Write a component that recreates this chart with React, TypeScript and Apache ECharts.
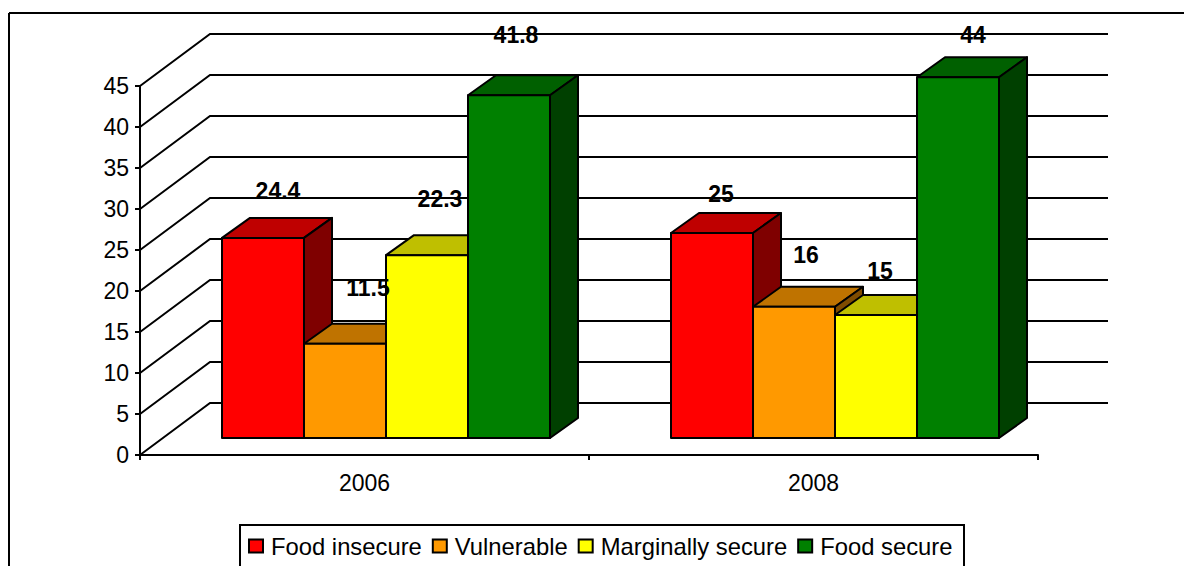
import React, { useEffect, useRef } from "react";
import * as echarts from "echarts";

const categories = ["2006", "2008"];
const seriesNames = ["Food insecure", "Vulnerable", "Marginally secure", "Food secure"];
const foodInsecure = [24.4, 25];
const vulnerable = [11.5, 16];
const marginallySecure = [22.3, 15];
const foodSecure = [41.8, 44];
const yTicks = [0, 5, 10, 15, 20, 25, 30, 35, 40, 45];

const frontColors = ["#FF0000", "#FF9900", "#FFFF00", "#008000"];
const topColors = ["#BF0000", "#BF7300", "#BFBF00", "#006000"];
const sideColors = ["#7F0000", "#7F4C00", "#7F7F00", "#004000"];

// hand-placed data label offsets from each bar's top centre [dx, dy], by series then category
const labelOffsets = [
  [[15, -47], [9, -39]],
  [[23, -56], [12, -52]],
  [[13, -56], [4, -44]],
  [[7, -60], [15, -42]],
];

const FONT = "'Liberation Sans', Arial, sans-serif";
const WALL_DX = 70;
const WALL_DY = 52;
const FLOOR_DX = 21.5;
const FLOOR_DY = 17;
const BAR_W = 82;
const SIDE_DX = 28;
const SIDE_DY = 20;
const GRID = { left: 140, right: 146, top: 86, bottom: 111 };

export default function App() {
  const ref = useRef<HTMLDivElement>(null);
  useEffect(() => {
    const chart = echarts.init(ref.current!, null, { renderer: "svg" });
    const allValues = [foodInsecure, vulnerable, marginallySecure, foodSecure];
    const stroke = { stroke: "#000", lineWidth: 2, lineJoin: "round" };

    const wall = {
      type: "custom",
      name: "wall",
      silent: true,
      data: yTicks.map((v) => [0, v]),
      encode: { x: 0, y: 1 },
      renderItem: (params: any, api: any) => {
        const cs = params.coordSys;
        const y = api.coord([0, api.value(1)])[1];
        return {
          type: "polyline",
          shape: {
            points: [
              [cs.x, y],
              [cs.x + WALL_DX, y - WALL_DY],
              [cs.x + cs.width + WALL_DX, y - WALL_DY],
            ],
          },
          style: { fill: "none", stroke: "#000", lineWidth: 2 },
        };
      },
    };

    const bars = allValues.map((values, s) => ({
      type: "custom",
      name: seriesNames[s],
      silent: true,
      itemStyle: { color: frontColors[s], borderColor: "#000", borderWidth: 2 },
      data: values.map((v, c) => [c, v]),
      encode: { x: 0, y: 1 },
      renderItem: (_p: any, api: any) => {
        const cat = api.value(0);
        const top = api.coord([cat, api.value(1)]);
        const base = api.coord([cat, 0]);
        const x0 = base[0] + FLOOR_DX + (s - 2) * BAR_W;
        const x1 = x0 + BAR_W;
        const yB = base[1] - FLOOR_DY;
        const yT = top[1] - FLOOR_DY;
        return {
          type: "group",
          children: [
            {
              type: "polygon",
              shape: { points: [[x0, yT], [x1, yT], [x1 + SIDE_DX, yT - SIDE_DY], [x0 + SIDE_DX, yT - SIDE_DY]] },
              style: { fill: topColors[s], ...stroke },
            },
            {
              type: "polygon",
              shape: { points: [[x1, yT], [x1 + SIDE_DX, yT - SIDE_DY], [x1 + SIDE_DX, yB - SIDE_DY], [x1, yB]] },
              style: { fill: sideColors[s], ...stroke },
            },
            {
              type: "polygon",
              shape: { points: [[x0, yT], [x1, yT], [x1, yB], [x0, yB]] },
              style: { fill: frontColors[s], ...stroke },
            },
          ],
        };
      },
    }));

    const labelData: number[][] = [];
    allValues.forEach((values, s) => values.forEach((v, c) => labelData.push([c, v, s])));
    const labels = {
      type: "custom",
      name: "labels",
      silent: true,
      data: labelData,
      encode: { x: 0, y: 1 },
      renderItem: (_p: any, api: any) => {
        const cat = api.value(0);
        const val = api.value(1);
        const s = api.value(2);
        const top = api.coord([cat, val]);
        const off = labelOffsets[s][cat];
        return {
          type: "text",
          style: {
            text: String(val),
            x: top[0] + FLOOR_DX + (s - 1.5) * BAR_W + off[0],
            y: top[1] - FLOOR_DY + off[1],
            align: "center",
            verticalAlign: "middle",
            font: `bold 23px ${FONT}`,
            fill: "#000",
          },
        };
      },
    };

    const black = { color: "#000", width: 2 };
    chart.setOption({
      animation: false,
      backgroundColor: "#fff",
      grid: GRID,
      xAxis: {
        type: "category",
        data: categories,
        boundaryGap: true,
        axisLine: { lineStyle: black },
        axisTick: { show: true, length: 5, lineStyle: black },
        axisLabel: { color: "#000", fontFamily: FONT, fontSize: 23, margin: 16 },
        splitLine: { show: false },
      },
      yAxis: {
        type: "value",
        min: 0,
        max: 45,
        interval: 5,
        axisLine: { show: true, lineStyle: black },
        axisTick: { show: true, length: 5, lineStyle: black },
        axisLabel: { color: "#000", fontFamily: FONT, fontSize: 23, margin: 11, padding: [3, 0, 0, 0] },
        splitLine: { show: false },
      },
      legend: {
        data: seriesNames,
        left: 248,
        top: 534,
        padding: 0,
        icon: "rect",
        itemWidth: 14,
        itemHeight: 13,
        itemGap: 10,
        selectedMode: false,
        itemStyle: { borderColor: "#000", borderWidth: 2 },
        textStyle: { color: "#000", fontFamily: FONT, fontSize: 23.8, padding: [0, 0, 0, 3] },
      },
      graphic: [
        { type: "line", shape: { x1: 9, y1: 13, x2: 1184, y2: 13 }, style: { stroke: "#000", lineWidth: 2 } },
        { type: "line", shape: { x1: 9, y1: 13, x2: 9, y2: 566 }, style: { stroke: "#000", lineWidth: 2 } },
        {
          type: "polyline",
          shape: { points: [[240, 566], [240, 525], [964, 525], [964, 566]] },
          style: { fill: "none", stroke: "#000", lineWidth: 2 },
        },
      ],
      series: [wall, ...bars, labels],
    });
    return () => chart.dispose();
  }, []);
  return <div ref={ref} style={{ position: "absolute", left: 0, top: 0, width: 1184, height: 566 }} />;
}
